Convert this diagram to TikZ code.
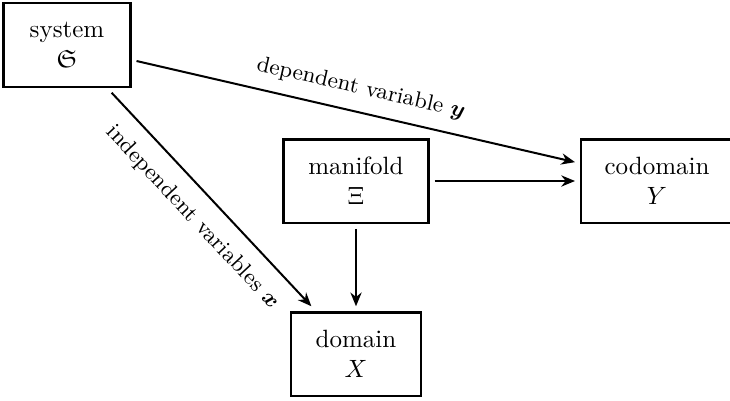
\documentclass[tikz,border=0pt]{standalone}
\usepackage{amsmath,amssymb}
\usepackage{tikz}
\usetikzlibrary{arrows.meta}

\begin{document}
\begin{tikzpicture}[x=0.4pt,y=-0.4pt,
  box/.style={draw,line width=1pt,align=center,minimum height=33.4pt,outer sep=2.4pt},
  lab/.style={font=\small,sloped,inner sep=2pt},
  arr/.style={thick,-{Stealth[length=5.5pt,width=4.5pt]}}]
\useasboundingbox (0,0) rectangle (730,400);
\node[box,minimum width=50.8pt] (sys) at (67,45) {system\\$\mathfrak{S}$};
\node[box,minimum width=58pt] (man) at (356,181) {manifold\\$\Xi$};
\node[box,minimum width=60.8pt] (cod) at (657,181) {codomain\\$Y$};
\node[box,minimum width=52pt] (dom) at (356,354) {domain\\$X$};

\draw[arr] (sys) -- node[lab,above=3pt,pos=0.5] {dependent variable $\boldsymbol{y}$} (cod);
\draw[arr] (sys) -- node[lab,below=4pt,pos=0.5] {independent variables $\boldsymbol{x}$} (dom);
\draw[arr] (man) -- (cod);
\draw[arr] (man) -- (dom);
\end{tikzpicture}
\end{document}
